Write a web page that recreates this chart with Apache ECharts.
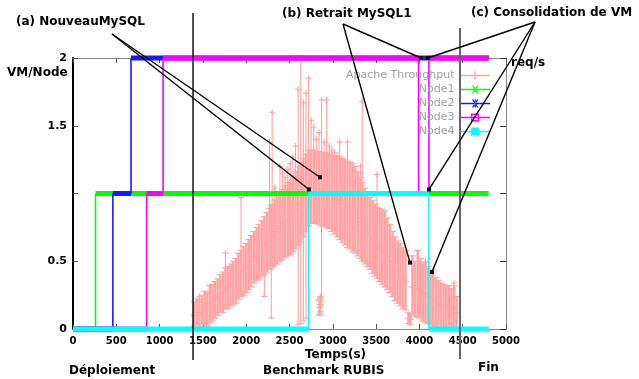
<!DOCTYPE html>
<html>
<head>
<meta charset="utf-8">
<script src="https://cdn.jsdelivr.net/npm/echarts@6/dist/echarts.min.js"></script>
<style>
  html, body { margin: 0; padding: 0; background: #fff; }
  #chart { width: 639px; height: 379px; }
</style>
</head>
<body>
<div id="chart"></div>
<script>
// Apache throughput samples (req/s): time, value, dense band low/high, whisker min/max
const thrTime  = [1400,1430,1460,1490,1520,1550,1580,1610,1640,1670,1700,1730,1760,1790,1820,1850,1880,1910,1940,1970,
                  2000,2030,2060,2090,2120,2150,2180,2210,2240,2270,2290,2300,2330,2360,2390,2420,2450,2480,2510,2540,
                  2570,2600,2630,2660,2690,2720,2750,2780,2810,2840,2848,2856,2870,2900,2930,2960,2990,3020,3050,3080,
                  3110,3140,3170,3200,3230,3260,3290,3320,3340,3370,3400,3430,3460,3490,3510,3540,3570,3600,3630,3660,
                  3690,3720,3750,3780,3810,3840,3875,3895,3920,3950,3980,4010,4040,4070,4100,4130,4160,4190,4220,4250,
                  4280,4310,4340,4370,4400,4430];
const thrValue = [10,12,11,14,15,14,19,20,22,24,26,27,30,31,33,34,36,39,42,43,
                  45,47,50,53,55,57,59,62,64,66,68,70,72,74,76,78,80,82,84,87,
                  89,92,94,97,100,103,104,104,104,103,16,18,103,102,101,100,99,97,96,95,
                  93,92,90,89,87,85,82,79,77,74,71,69,66,64,62,60,58,56,53,50,
                  47,44,42,40,37,35,8,7,31,29,30,28,26,26,24,23,22,20,19,18,
                  17,16,17,15,16,12];
const thrLow   = [2,3,2,4,3,3,5,6,8,10,12,12,15,15,17,18,19,22,24,25,
                  27,29,31,34,36,37,39,40,42,44,45,46,47,48,50,51,53,54,55,57,
                  59,62,64,68,72,76,78,78,78,77,11,13,76,76,75,74,72,70,68,66,
                  64,62,60,59,57,56,54,52,50,48,46,44,41,39,37,35,33,31,29,27,
                  24,21,19,17,15,14,4,3,11,9,9,8,6,5,4,3,2,2,3,2,
                  2,2,3,2,2,1];
const thrHigh  = [20,22,22,25,28,27,32,33,35,37,40,42,45,46,48,50,52,56,58,61,
                  63,66,69,72,75,77,80,83,86,89,91,92,95,98,100,103,106,108,110,113,
                  116,120,123,126,129,132,132,132,131,131,21,23,130,130,130,129,128,128,127,127,
                  126,125,124,123,122,120,116,112,108,104,100,97,95,92,90,89,88,87,82,77,
                  72,68,65,63,60,58,12,11,54,50,58,52,48,49,46,42,42,38,36,34,
                  33,31,32,30,32,24];
const thrMin   = [2,3,2,4,3,2,5,6,8,10,12,12,15,15,17,18,19,22,24,25,
                  27,29,31,34,36,37,39,24,42,44,8,46,47,48,50,51,53,54,55,57,
                  59,3,4,6,8,76,78,78,78,77,10,12,20,76,75,74,72,70,68,66,
                  64,62,60,59,57,56,54,52,50,48,46,44,41,39,37,35,33,31,29,27,
                  24,21,19,17,15,14,4,3,11,9,9,8,6,5,4,3,2,2,3,2,
                  2,2,3,2,2,1];
const thrMax   = [20,22,24,25,28,27,32,33,35,37,40,42,56,46,48,50,52,56,97,61,
                  63,66,69,72,75,77,80,83,86,138,91,160,104,98,120,115,112,118,122,127,
                  135,177,200,167,174,185,154,149,140,145,22,24,169,138,169,135,132,130,128,138,
                  126,125,138,123,122,120,116,120,168,104,100,97,95,92,114,89,88,87,82,77,
                  72,68,65,63,60,58,12,11,54,50,58,52,48,50,46,42,44,38,36,34,
                  33,31,32,30,34,24];

// VMs hosted per node: level i holds from times[i] to times[i+1]
const node1Times = [0, 260, 4800];
const node1Levels = [0, 1];
const node2Times = [0, 460, 670, 4800];
const node2Levels = [0, 1, 2];
const node3Times = [0, 850, 1040, 3990, 4110, 4800];
const node3Levels = [0, 1, 2, 1, 2];
const node4Times = [0, 2720, 4110, 4800];
const node4Levels = [0, 1, 0];

const nodeNames = ['Node1', 'Node2', 'Node3', 'Node4'];
const nodeColors = ['#00ff00', '#1a1aff', '#ff00ff', '#00ffff'];

// left axis tick labels (the 1 is left blank as in the original)
const yTickLabels = { 0: '0', 0.5: '0.5', 1: ' ', 1.5: '1.5', 2: '2' };

// phase boundaries (s) and annotation targets [time, VM level]
const phaseBounds = [1386, 4469];
const annotA = [[2725, 1.03], [2852, 1.12]];
const annotB = [[4018, 2.0], [3891, 0.49]];
const annotC = [[4099, 2.0], [4111, 1.03], [4145, 0.42]];

const FONT = 'DejaVu Sans';

function segments(times, levels) {
  return levels.map((lv, i) => [times[i], times[i + 1], lv, i === 0 ? lv : levels[i - 1]]);
}

function nodeSeries(name, color, times, levels) {
  return {
    name: name,
    type: 'custom',
    xAxisIndex: 0,
    yAxisIndex: 0,
    itemStyle: { color: color },
    encode: { x: [0, 1], y: [2, 3] },
    data: segments(times, levels),
    renderItem: function (params, api) {
      const t0 = api.value(0), t1 = api.value(1), lv = api.value(2), prev = api.value(3);
      const a = api.coord([t0, lv]);
      const b = api.coord([t1, lv]);
      const children = [{
        type: 'rect',
        shape: { x: a[0], y: a[1] - 2.5, width: b[0] - a[0], height: 5 },
        style: { fill: color }
      }];
      if (prev !== lv) {
        const p = api.coord([t0, prev]);
        children.push({
          type: 'line',
          shape: { x1: a[0], y1: p[1], x2: a[0], y2: a[1] },
          style: { stroke: color, lineWidth: 1.6 }
        });
      }
      return { type: 'group', children: children };
    }
  };
}

const thrData = thrTime.map((t, i) => [t, thrValue[i], thrLow[i], thrHigh[i], thrMin[i], thrMax[i]]);
const PINK = '#ffa4a4';

const lineIcon = 'M0,3.3h30v1.4h-30z';
const legendData = [
  { name: 'Apache Throughput', icon: 'path://' + lineIcon + 'M14.3,0h1.4v8h-1.4z' },
  { name: 'Node1', icon: 'path://' + lineIcon + 'M12,0L13.4,0L18.5,8L17.1,8ZM18.5,0L17.1,0L12,8L13.4,8Z' },
  { name: 'Node2', icon: 'path://' + lineIcon + 'M12,0L13.4,0L18.5,8L17.1,8ZM18.5,0L17.1,0L12,8L13.4,8ZM14.6,0h1.3v8h-1.3z' },
  { name: 'Node3', icon: 'path://' + lineIcon + 'M11,0h8v8h-8zM12.4,1.4v5.2h5.2v-5.2z' },
  { name: 'Node4', icon: 'path://' + lineIcon + 'M11,0h8v8h-8z' }
];

const chart = echarts.init(document.getElementById('chart'));

const option = {
  animation: false,
  backgroundColor: '#fff',
  grid: { left: 73, right: 133, top: 58, bottom: 50 },
  legend: {
    data: legendData,
    orient: 'vertical',
    align: 'right',
    right: 144,
    top: 64,
    itemWidth: 31,
    itemHeight: 8,
    itemGap: 1,
    selectedMode: false,
    textStyle: { color: '#a0a0a0', fontFamily: FONT, fontSize: 11, lineHeight: 13 }
  },
  xAxis: [{
    type: 'value',
    position: 'bottom',
    min: 0, max: 5000, interval: 500,
    axisLine: { onZero: false, lineStyle: { color: '#888', width: 1 } },
    axisTick: { inside: true, length: 5, lineStyle: { color: '#555' } },
    axisLabel: { color: '#000', fontFamily: FONT, fontSize: 10, fontWeight: 'bold', margin: 7, formatter: v => String(v) },
    splitLine: { show: false }
  }, {
    type: 'value',
    position: 'top',
    min: 0, max: 5000, interval: 500,
    axisLine: { onZero: false, lineStyle: { color: '#888', width: 1 } },
    axisTick: { inside: true, length: 5, lineStyle: { color: '#555' } },
    axisLabel: { show: false },
    splitLine: { show: false }
  }],
  yAxis: [{
    type: 'value',
    position: 'left',
    min: 0, max: 2, interval: 0.5,
    axisLine: { show: true, onZero: false, lineStyle: { color: '#000', width: 2 } },
    axisTick: { show: true, inside: true, length: 5, lineStyle: { color: '#555' } },
    axisLabel: {
      color: '#000', fontFamily: FONT, fontSize: 11, fontWeight: 'bold', margin: 6,
      formatter: v => yTickLabels[v]
    },
    splitLine: { show: false }
  }, {
    type: 'value',
    position: 'right',
    min: 0, max: 200, interval: 50,
    axisLine: { show: true, onZero: false, lineStyle: { color: '#888', width: 1 } },
    axisTick: { show: true, inside: true, length: 6, lineStyle: { color: '#333' } },
    axisLabel: { show: false },
    splitLine: { show: false }
  }],
  series: [{
    name: 'Apache Throughput',
    type: 'custom',
    xAxisIndex: 0,
    yAxisIndex: 1,
    itemStyle: { color: PINK },
    encode: { x: 0, y: [1, 2, 3, 4, 5] },
    data: thrData,
    renderItem: function (params, api) {
      const t = api.value(0);
      const pv = api.coord([t, api.value(1)]);
      const lo = api.coord([t, api.value(2)])[1];
      const hi = api.coord([t, api.value(3)])[1];
      const mn = api.coord([t, api.value(4)])[1];
      const mx = api.coord([t, api.value(5)])[1];
      const band = { stroke: PINK, lineWidth: 2.5 };
      const thin = { stroke: PINK, lineWidth: 1.1 };
      const x = pv[0];
      const kids = [
        { type: 'line', shape: { x1: x, y1: lo, x2: x, y2: hi }, style: band },
        { type: 'line', shape: { x1: x - 3.5, y1: lo, x2: x + 3.5, y2: lo }, style: thin },
        { type: 'line', shape: { x1: x - 3.5, y1: hi, x2: x + 3.5, y2: hi }, style: thin },
        { type: 'line', shape: { x1: x - 3.5, y1: pv[1], x2: x + 3.5, y2: pv[1] }, style: thin }
      ];
      if (mx < hi) {
        kids.push({ type: 'line', shape: { x1: x, y1: hi, x2: x, y2: mx }, style: thin });
        kids.push({ type: 'line', shape: { x1: x - 3, y1: mx, x2: x + 3, y2: mx }, style: thin });
        kids.push({ type: 'line', shape: { x1: x, y1: mx - 3, x2: x, y2: mx + 3 }, style: thin });
      }
      if (mn > lo) {
        kids.push({ type: 'line', shape: { x1: x, y1: lo, x2: x, y2: mn }, style: thin });
        kids.push({ type: 'line', shape: { x1: x - 3, y1: mn, x2: x + 3, y2: mn }, style: thin });
      }
      return { type: 'group', children: kids };
    }
  },
    nodeSeries(nodeNames[0], nodeColors[0], node1Times, node1Levels),
    nodeSeries(nodeNames[1], nodeColors[1], node2Times, node2Levels),
    nodeSeries(nodeNames[2], nodeColors[2], node3Times, node3Levels),
    nodeSeries(nodeNames[3], nodeColors[3], node4Times, node4Levels)
  ]
};

chart.setOption(option);

// annotations: phase lines, arrows and labels
function px(p) {
  return chart.convertToPixel({ xAxisIndex: 0, yAxisIndex: 0 }, p);
}

const graphics = [];
const phaseLineStyle = [
  { y1: 13, y2: 360, stroke: '#111', lineWidth: 1.5 },
  { y1: 28, y2: 359, stroke: '#666', lineWidth: 2 }
];
phaseBounds.forEach((t, i) => {
  const x = px([t, 0])[0];
  const s = phaseLineStyle[i];
  graphics.push({
    type: 'line', z: 50,
    shape: { x1: x, y1: s.y1, x2: x, y2: s.y2 },
    style: { stroke: s.stroke, lineWidth: s.lineWidth }
  });
});

function arrows(start, targets) {
  targets.forEach(tg => {
    const p = px(tg);
    graphics.push({
      type: 'line', z: 60,
      shape: { x1: start[0], y1: start[1], x2: p[0], y2: p[1] },
      style: { stroke: '#000', lineWidth: 1.4 }
    });
    graphics.push({
      type: 'rect', z: 61,
      shape: { x: p[0] - 2, y: p[1] - 2, width: 4, height: 4 },
      style: { fill: '#000' }
    });
  });
}
arrows([112, 34], annotA);
arrows([343, 24], annotB);
arrows([535, 22], annotC);

function label(text, x, y, align) {
  graphics.push({
    type: 'text', z: 70,
    x: x, y: y,
    style: {
      text: text, fill: '#000', fontFamily: FONT, fontSize: 12, fontWeight: 'bold',
      align: align || 'left', verticalAlign: 'middle'
    }
  });
}
label('(a) NouveauMySQL', 16, 22);
label('(b) Retrait MySQL1', 282, 14);
label('(c) Consolidation de VM', 471, 13);
label('VM/Node', 7, 73);
label('req/s', 511, 63);
label('Temps(s)', 305, 355);
label('Déploiement', 69, 371);
label('Benchmark RUBIS', 263, 371);
label('Fin', 478, 368);

chart.setOption({ graphic: graphics });
</script>
</body>
</html>
